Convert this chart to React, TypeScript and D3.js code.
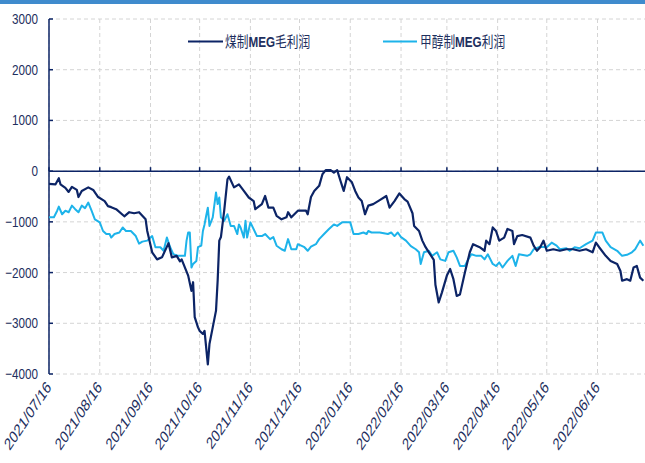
import React from "react";
import * as d3 from "d3";

// 煤制MEG毛利润 (元/吨)
const coalProfit: [string, number][] = [
  ["2021-07-16", -250], ["2021-07-20", -260], ["2021-07-22", -140], ["2021-07-23", -260],
  ["2021-07-26", -330], ["2021-07-28", -410], ["2021-07-30", -310], ["2021-08-02", -370],
  ["2021-08-03", -510], ["2021-08-05", -390], ["2021-08-09", -320], ["2021-08-12", -370],
  ["2021-08-15", -510], ["2021-08-19", -590], ["2021-08-21", -690], ["2021-08-23", -710],
  ["2021-08-26", -750], ["2021-08-31", -890], ["2021-09-03", -810], ["2021-09-06", -830],
  ["2021-09-09", -810], ["2021-09-13", -950], ["2021-09-14", -1180], ["2021-09-17", -1600],
  ["2021-09-20", -1740], ["2021-09-23", -1700], ["2021-09-27", -1420], ["2021-09-29", -1700],
  ["2021-10-02", -1670], ["2021-10-04", -1780], ["2021-10-05", -1740], ["2021-10-09", -2060],
  ["2021-10-11", -2360], ["2021-10-12", -2190], ["2021-10-13", -2880], ["2021-10-15", -3080],
  ["2021-10-16", -3150], ["2021-10-18", -3210], ["2021-10-19", -3150], ["2021-10-21", -3810],
  ["2021-10-22", -3410], ["2021-10-24", -3080], ["2021-10-26", -2750], ["2021-10-27", -2160],
  ["2021-10-28", -1370], ["2021-10-29", -1300], ["2021-10-31", -780], ["2021-11-02", -160],
  ["2021-11-03", -110], ["2021-11-06", -320], ["2021-11-09", -260], ["2021-11-12", -390],
  ["2021-11-15", -520], ["2021-11-18", -590], ["2021-11-19", -750], ["2021-11-23", -650],
  ["2021-11-25", -490], ["2021-11-27", -720], ["2021-11-30", -720], ["2021-12-02", -880],
  ["2021-12-05", -950], ["2021-12-08", -910], ["2021-12-09", -810], ["2021-12-11", -910],
  ["2021-12-15", -780], ["2021-12-20", -780], ["2021-12-21", -850], ["2021-12-23", -510],
  ["2021-12-25", -390], ["2021-12-28", -290], ["2021-12-30", -60], ["2022-01-01", 20],
  ["2022-01-04", 20], ["2022-01-06", -30], ["2022-01-08", 20], ["2022-01-10", -190],
  ["2022-01-12", -390], ["2022-01-14", -120], ["2022-01-17", -220], ["2022-01-19", -390],
  ["2022-01-21", -520], ["2022-01-23", -590], ["2022-01-25", -850], ["2022-01-27", -680],
  ["2022-01-30", -650], ["2022-02-02", -590], ["2022-02-07", -490], ["2022-02-09", -720],
  ["2022-02-12", -590], ["2022-02-15", -440], ["2022-02-18", -550], ["2022-02-20", -600],
  ["2022-02-23", -830], ["2022-02-24", -1080], ["2022-02-27", -1180], ["2022-03-01", -1370],
  ["2022-03-03", -1500], ["2022-03-05", -1600], ["2022-03-08", -1750], ["2022-03-09", -2240],
  ["2022-03-11", -2590], ["2022-03-13", -2390], ["2022-03-16", -2060], ["2022-03-18", -1930],
  ["2022-03-20", -2130], ["2022-03-22", -2460], ["2022-03-24", -2430], ["2022-03-27", -2000],
  ["2022-03-30", -1600], ["2022-04-01", -1440], ["2022-04-05", -1500], ["2022-04-08", -1570],
  ["2022-04-09", -1370], ["2022-04-11", -1440], ["2022-04-13", -1110], ["2022-04-15", -1180],
  ["2022-04-17", -1370], ["2022-04-20", -1310], ["2022-04-22", -1140], ["2022-04-25", -1180],
  ["2022-04-26", -1440], ["2022-04-28", -1280], ["2022-05-01", -1260], ["2022-05-06", -1310],
  ["2022-05-08", -1470], ["2022-05-10", -1570], ["2022-05-12", -1500], ["2022-05-14", -1370],
  ["2022-05-16", -1570], ["2022-05-20", -1540], ["2022-05-24", -1570], ["2022-05-28", -1540],
  ["2022-06-01", -1540], ["2022-06-05", -1570], ["2022-06-09", -1540], ["2022-06-13", -1600],
  ["2022-06-15", -1410], ["2022-06-17", -1500], ["2022-06-21", -1670], ["2022-06-24", -1770],
  ["2022-06-28", -1830], ["2022-06-30", -1970], ["2022-07-01", -2160], ["2022-07-04", -2130],
  ["2022-07-06", -2160], ["2022-07-08", -1900], ["2022-07-10", -1870], ["2022-07-12", -2100],
  ["2022-07-14", -2160],
];

// 甲醇制MEG利润 (元/吨)
const methanolProfit: [string, number][] = [
  ["2021-07-16", -910], ["2021-07-19", -910], ["2021-07-21", -780], ["2021-07-22", -700],
  ["2021-07-24", -850], ["2021-07-26", -780], ["2021-07-28", -810], ["2021-07-30", -680],
  ["2021-08-01", -750], ["2021-08-03", -810], ["2021-08-05", -680], ["2021-08-07", -730],
  ["2021-08-09", -620], ["2021-08-11", -780], ["2021-08-13", -950], ["2021-08-16", -1010],
  ["2021-08-18", -1180], ["2021-08-20", -1240], ["2021-08-22", -1240], ["2021-08-23", -1310],
  ["2021-08-25", -1240], ["2021-08-28", -1210], ["2021-08-30", -1110], ["2021-09-01", -1180],
  ["2021-09-04", -1180], ["2021-09-07", -1280], ["2021-09-09", -1430], ["2021-09-11", -1390],
  ["2021-09-14", -1370], ["2021-09-17", -1280], ["2021-09-19", -1500], ["2021-09-22", -1500],
  ["2021-09-24", -1570], ["2021-09-26", -1310], ["2021-09-28", -1500], ["2021-09-30", -1640],
  ["2021-10-03", -1670], ["2021-10-07", -1670], ["2021-10-08", -1370], ["2021-10-09", -1210],
  ["2021-10-10", -1210], ["2021-10-11", -1900], ["2021-10-12", -1830], ["2021-10-14", -1770],
  ["2021-10-15", -1500], ["2021-10-17", -1470], ["2021-10-18", -1180], ["2021-10-19", -1050],
  ["2021-10-20", -880], ["2021-10-21", -720], ["2021-10-22", -1080], ["2021-10-24", -910],
  ["2021-10-26", -420], ["2021-10-27", -650], ["2021-10-28", -520], ["2021-10-29", -910],
  ["2021-10-31", -980], ["2021-11-02", -850], ["2021-11-04", -1080], ["2021-11-06", -1080],
  ["2021-11-08", -1240], ["2021-11-09", -1050], ["2021-11-10", -1110], ["2021-11-12", -1310],
  ["2021-11-13", -980], ["2021-11-14", -1310], ["2021-11-16", -1010], ["2021-11-20", -1280],
  ["2021-11-23", -1280], ["2021-11-25", -1240], ["2021-11-28", -1340], ["2021-11-30", -1300],
  ["2021-12-02", -1470], ["2021-12-05", -1540], ["2021-12-07", -1570], ["2021-12-09", -1340],
  ["2021-12-11", -1540], ["2021-12-14", -1540], ["2021-12-15", -1440], ["2021-12-17", -1470],
  ["2021-12-19", -1500], ["2021-12-21", -1570], ["2021-12-23", -1490], ["2021-12-26", -1440],
  ["2021-12-28", -1340], ["2021-12-31", -1240], ["2022-01-03", -1140], ["2022-01-06", -1050],
  ["2022-01-08", -1080], ["2022-01-11", -1010], ["2022-01-16", -1010], ["2022-01-18", -1240],
  ["2022-01-21", -1240], ["2022-01-24", -1210], ["2022-01-26", -1240], ["2022-01-27", -1180],
  ["2022-01-29", -1210], ["2022-02-03", -1210], ["2022-02-08", -1240], ["2022-02-10", -1210],
  ["2022-02-12", -1280], ["2022-02-14", -1210], ["2022-02-16", -1300], ["2022-02-19", -1370],
  ["2022-02-22", -1480], ["2022-02-25", -1540], ["2022-02-27", -1600], ["2022-02-28", -1830],
  ["2022-03-02", -1600], ["2022-03-05", -1570], ["2022-03-07", -1670], ["2022-03-10", -1600],
  ["2022-03-12", -1740], ["2022-03-15", -1770], ["2022-03-17", -1600], ["2022-03-20", -1570],
  ["2022-03-22", -1700], ["2022-03-24", -1870], ["2022-03-27", -1870], ["2022-03-29", -1740],
  ["2022-03-31", -1640], ["2022-04-03", -1670], ["2022-04-06", -1670], ["2022-04-08", -1740],
  ["2022-04-10", -1640], ["2022-04-13", -1830], ["2022-04-15", -1870], ["2022-04-17", -1800],
  ["2022-04-19", -1900], ["2022-04-22", -1770], ["2022-04-25", -1670], ["2022-04-27", -1870],
  ["2022-04-29", -1640], ["2022-05-04", -1670], ["2022-05-06", -1640], ["2022-05-08", -1540],
  ["2022-05-12", -1490], ["2022-05-16", -1500], ["2022-05-19", -1410], ["2022-05-22", -1470],
  ["2022-05-24", -1540], ["2022-05-28", -1520], ["2022-05-30", -1570], ["2022-06-02", -1500],
  ["2022-06-05", -1520], ["2022-06-09", -1440], ["2022-06-13", -1370], ["2022-06-15", -1210],
  ["2022-06-19", -1210], ["2022-06-21", -1370], ["2022-06-24", -1500], ["2022-06-28", -1570],
  ["2022-07-01", -1670], ["2022-07-04", -1650], ["2022-07-07", -1600], ["2022-07-09", -1540],
  ["2022-07-12", -1370], ["2022-07-14", -1470],
];

const yTicks = [3000, 2000, 1000, 0, -1000, -2000, -3000, -4000];
const xTicks = [
  "2021-07-16", "2021-08-16", "2021-09-16", "2021-10-16", "2021-11-16", "2021-12-16",
  "2022-01-16", "2022-02-16", "2022-03-16", "2022-04-16", "2022-05-16", "2022-06-16",
];

const W = 645;
const H = 463;
const COAL = "#0c2466";
const METH = "#1db3ea";
const TEXT = "#1e2f5e";
const FONT = "'Liberation Sans', Arial, sans-serif";
const SX = 0.78; // horizontal squeeze of the original picture

const parse = d3.timeParse("%Y-%m-%d");
const fmt = d3.timeFormat("%Y/%m/%d");

export default function App() {
  const x = d3
    .scaleTime()
    .domain([parse("2021-07-16")!, parse("2022-07-15")!])
    .range([49, 645]);
  const y = d3.scaleLinear().domain([-4000, 3000]).range([374, 19]);

  const line = d3
    .line<[string, number]>()
    .x((d) => x(parse(d[0])!))
    .y((d) => y(d[1]));

  const y0 = y(0);

  return (
    <div style={{ position: "absolute", left: 0, top: 0 }}>
      <svg width={W} height={H} style={{ display: "block", background: "#fff" }}>
        <rect x={0} y={0} width={W} height={4} fill="#3f8bcd" />

        {/* grid */}
        {yTicks.map((t) => (
          <line key={"gy" + t} x1={49} x2={W} y1={y(t)} y2={y(t)}
            stroke="#d4d4d4" strokeDasharray="4,3" />
        ))}
        {xTicks.map((t) => (
          <line key={"gx" + t} x1={x(parse(t)!)} x2={x(parse(t)!)} y1={19} y2={374}
            stroke="#d4d4d4" strokeDasharray="4,3" />
        ))}

        {/* y axis */}
        <line x1={49} x2={49} y1={19} y2={374} stroke={COAL} strokeWidth={1.5} />
        {yTicks.map((t) => (
          <g key={"yt" + t}>
            <line x1={49} x2={53} y1={y(t)} y2={y(t)} stroke={COAL} strokeWidth={1.5} />
            <text transform={`translate(38,${y(t) + 5}) scale(${SX},1)`} textAnchor="end"
              fontFamily={FONT} fontSize={15} fill={TEXT}>
              {t < 0 ? "\u2212" + Math.abs(t) : t}
            </text>
          </g>
        ))}

        {/* x axis at zero */}
        <line x1={49} x2={W} y1={y0} y2={y0} stroke={COAL} strokeWidth={1.5} />
        {xTicks.map((t) => {
          const px = x(parse(t)!);
          return (
            <g key={"xt" + t}>
              <line x1={px} x2={px} y1={y0} y2={y0 - 4} stroke={COAL} strokeWidth={1.5} />
              <text transform={`translate(${px + 3},${388}) scale(${SX * 0.95},1) rotate(-48)`}
                textAnchor="end" fontFamily={FONT} fontSize={17} fill={TEXT}>
                {fmt(parse(t)!)}
              </text>
            </g>
          );
        })}

        {/* series */}
        <path d={line(methanolProfit)!} fill="none" stroke={METH} strokeWidth={2} strokeLinejoin="round" />
        <path d={line(coalProfit)!} fill="none" stroke={COAL} strokeWidth={2.2} strokeLinejoin="round" />

        {/* legend */}
        <line x1={188} x2={223} y1={41.5} y2={41.5} stroke={COAL} strokeWidth={2.2} />
        <text transform={`translate(225,47) scale(${SX},1)`} fontFamily={`${FONT}, 'Noto Sans CJK SC'`}
          fontSize={15} fill={TEXT}>
          <tspan fontFamily="'Noto Sans CJK SC'">煤制</tspan>
          <tspan fontWeight="bold">MEG</tspan>
          <tspan fontFamily="'Noto Sans CJK SC'">毛利润</tspan>
        </text>
        <line x1={383} x2={417} y1={41.5} y2={41.5} stroke={METH} strokeWidth={2} />
        <text transform={`translate(420,47) scale(${SX},1)`} fontFamily={`${FONT}, 'Noto Sans CJK SC'`}
          fontSize={15} fill={TEXT}>
          <tspan fontFamily="'Noto Sans CJK SC'">甲醇制</tspan>
          <tspan fontWeight="bold">MEG</tspan>
          <tspan fontFamily="'Noto Sans CJK SC'">利润</tspan>
        </text>
      </svg>
    </div>
  );
}
